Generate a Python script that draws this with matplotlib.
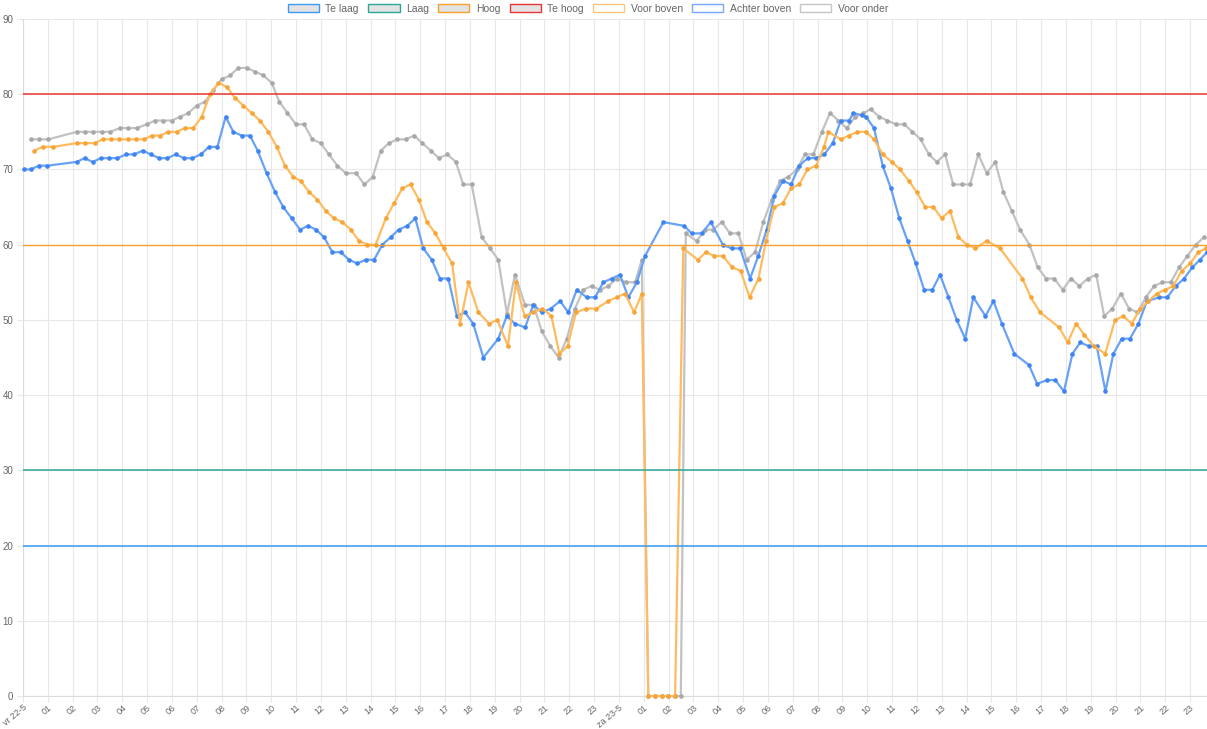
import matplotlib.pyplot as plt
from matplotlib.patches import Patch

plt.rcParams["font.family"] = ["Liberation Sans", "DejaVu Sans"]

# Tijd in uren vanaf vr 22-5 00:00
ACHTER_BOVEN_T = [
    0.04, 0.31, 0.64, 0.98, 2.16, 2.48, 2.81, 3.13, 3.48, 3.80,
    4.15, 4.48, 4.82, 5.14, 5.49, 5.81, 6.15, 6.48, 6.82, 7.16,
    7.49, 7.83, 8.16, 8.47, 8.81, 9.14, 9.45, 9.81, 10.15, 10.48,
    10.82, 11.16, 11.48, 11.80, 12.12, 12.46, 12.79, 13.13, 13.46, 13.80,
    14.14, 14.47, 14.81, 15.13, 15.47, 15.80, 16.12, 16.46, 16.79, 17.13,
    17.47, 17.80, 18.13, 18.54, 19.14, 19.48, 19.81, 20.22, 20.55, 20.89,
    21.25, 21.63, 21.96, 22.30, 22.70, 23.04, 23.37, 23.71, 24.04, 24.38,
    24.72, 25.05, 25.79, 26.62, 26.93, 27.33, 27.70, 28.18, 28.54, 28.88,
    29.28, 29.61, 29.95, 30.26, 30.60, 30.93, 31.26, 31.60, 31.94, 32.27,
    32.61, 32.93, 33.27, 33.44, 33.78, 33.95, 34.27, 34.62, 34.95, 35.29,
    35.62, 35.95, 36.29, 36.62, 36.93, 37.27, 37.60, 37.94, 38.27, 38.76,
    39.08, 39.42, 39.92, 40.51, 40.84, 41.24, 41.57, 41.92, 42.26, 42.58,
    42.92, 43.24, 43.59, 43.91, 44.25, 44.58, 44.92, 45.26, 45.76, 46.08,
    46.42, 46.76, 47.09, 47.40, 47.68,
]
ACHTER_BOVEN = [
    70, 70, 70.5, 70.5, 71, 71.5, 71, 71.5, 71.5, 71.5,
    72, 72, 72.5, 72, 71.5, 71.5, 72, 71.5, 71.5, 72,
    73, 73, 77, 75, 74.5, 74.5, 72.5, 69.5, 67, 65,
    63.5, 62, 62.5, 62, 61, 59, 59, 58, 57.5, 58,
    58, 60, 61, 62, 62.5, 63.5, 59.5, 58, 55.5, 55.5,
    50.5, 51, 49.5, 45, 47.5, 50.5, 49.5, 49, 52, 51,
    51.5, 52.5, 51, 54, 53, 53, 55, 55.5, 56, 53,
    55, 58.5, 63, 62.5, 61.5, 61.5, 63, 60, 59.5, 59.5,
    55.5, 58.5, 62, 66.5, 68.5, 68, 70.5, 71.5, 71.5, 72,
    73.5, 76.5, 76.5, 77.5, 77.2, 77, 75.5, 70.5, 67.5, 63.5,
    60.5, 57.5, 54, 54, 56, 53, 50, 47.5, 53, 50.5,
    52.5, 49.5, 45.5, 44, 41.5, 42, 42, 40.5, 45.5, 47,
    46.5, 46.5, 40.5, 45.5, 47.5, 47.5, 49.5, 52.5, 53, 53,
    54.5, 55.5, 57, 58, 59,
]

VOOR_BOVEN_T = [
    0.46, 0.79, 1.22, 2.16, 2.48, 2.90, 3.21, 3.54, 3.88, 4.22,
    4.55, 4.88, 5.18, 5.52, 5.85, 6.19, 6.52, 6.86, 7.20, 7.53,
    7.87, 8.20, 8.54, 8.87, 9.21, 9.54, 9.88, 10.22, 10.55, 10.89,
    11.18, 11.52, 11.85, 12.19, 12.52, 12.86, 13.20, 13.53, 13.87, 14.20,
    14.61, 14.94, 15.28, 15.61, 15.94, 16.27, 16.61, 16.94, 17.28, 17.60,
    17.94, 18.34, 18.77, 19.10, 19.53, 19.85, 20.20, 20.54, 20.92, 21.28,
    21.60, 21.93, 22.27, 22.67, 23.09, 23.57, 23.91, 24.24, 24.61, 24.92,
    25.18, 25.45, 25.72, 25.99, 26.26, 26.59, 27.17, 27.51, 27.84, 28.17,
    28.56, 28.90, 29.26, 29.62, 29.92, 30.25, 30.60, 30.93, 31.26, 31.59,
    31.94, 32.26, 32.43, 32.93, 33.27, 33.60, 33.94, 34.27, 34.62, 34.99,
    35.32, 35.67, 35.99, 36.33, 36.66, 36.99, 37.33, 37.67, 38.01, 38.35,
    38.81, 39.35, 40.25, 40.58, 40.96, 41.73, 42.07, 42.41, 42.74, 43.13,
    43.58, 43.98, 44.31, 44.65, 44.99, 45.32, 45.66, 45.99, 46.32, 46.66,
    47.00, 47.33, 47.64,
]
VOOR_BOVEN = [
    72.5, 73, 73, 73.5, 73.5, 73.5, 74, 74, 74, 74,
    74, 74, 74.5, 74.5, 75, 75, 75.5, 75.5, 77, 80,
    81.5, 81, 79.5, 78.5, 77.5, 76.5, 75, 73, 70.5, 69,
    68.5, 67, 66, 64.5, 63.5, 63, 62, 60.5, 60, 60,
    63.5, 65.5, 67.5, 68, 66, 63, 61.5, 59.5, 57.5, 49.5,
    55, 51, 49.5, 50, 46.5, 55, 50.5, 51, 51.5, 50.5,
    45.5, 46.5, 51, 51.5, 51.5, 52.5, 53, 53.5, 51, 53.5,
    0, 0, 0, 0, 0, 59.5, 58, 59, 58.5, 58.5,
    57, 56.5, 53, 55.5, 60.5, 65, 65.5, 67.5, 68, 70,
    70.5, 73, 75, 74, 74.5, 75, 75, 74, 72, 71,
    70, 68.5, 67, 65, 65, 63.5, 64.5, 61, 60, 59.5,
    60.5, 59.5, 55.5, 53, 51, 49, 47, 49.5, 48, 46.5,
    45.5, 50, 50.5, 49.5, 51.5, 52.5, 53.5, 54, 54.5, 56.5,
    57.5, 59, 59.5,
]

VOOR_ONDER_T = [
    0.31, 0.66, 1.02, 2.16, 2.50, 2.83, 3.17, 3.50, 3.91, 4.24,
    4.58, 4.98, 5.32, 5.65, 5.99, 6.32, 6.66, 7.00, 7.33, 7.66,
    8.00, 8.34, 8.67, 9.01, 9.34, 9.68, 10.02, 10.32, 10.65, 10.99,
    11.32, 11.65, 11.99, 12.32, 12.66, 13.00, 13.41, 13.75, 14.08, 14.41,
    14.74, 15.07, 15.41, 15.75, 16.08, 16.42, 16.75, 17.09, 17.43, 17.73,
    18.07, 18.47, 18.81, 19.14, 19.49, 19.81, 20.22, 20.56, 20.89, 21.24,
    21.57, 21.90, 22.23, 22.56, 22.90, 23.24, 23.57, 23.91, 24.28, 24.65,
    24.92, 25.18, 25.45, 25.72, 25.99, 26.26, 26.49, 26.69, 27.13, 27.47,
    27.80, 28.14, 28.47, 28.81, 29.14, 29.48, 29.81, 30.15, 30.49, 30.82,
    31.16, 31.49, 31.83, 32.17, 32.50, 32.83, 33.17, 33.51, 33.84, 34.14,
    34.48, 34.81, 35.15, 35.48, 35.82, 36.15, 36.48, 36.80, 37.13, 37.46,
    37.80, 38.14, 38.47, 38.81, 39.15, 39.48, 39.82, 40.15, 40.53, 40.86,
    41.20, 41.53, 41.87, 42.20, 42.54, 42.88, 43.22, 43.54, 43.87, 44.21,
    44.54, 44.88, 45.22, 45.55, 45.88, 46.22, 46.56, 46.89, 47.23, 47.56,
]
VOOR_ONDER = [
    74, 74, 74, 75, 75, 75, 75, 75, 75.5, 75.5,
    75.5, 76, 76.5, 76.5, 76.5, 77, 77.5, 78.5, 79, 80.5,
    82, 82.5, 83.5, 83.5, 83, 82.5, 81.5, 79, 77.5, 76,
    76, 74, 73.5, 72, 70.5, 69.5, 69.5, 68, 69, 72.5,
    73.5, 74, 74, 74.5, 73.5, 72.5, 71.5, 72, 71, 68,
    68, 61, 59.5, 58, 50.8, 56, 52, 52, 48.5, 46.5,
    45, 47.5, 51.5, 54, 54.5, 54, 54.5, 55.5, 55, 55,
    58, 0, 0, 0, 0, 0, 0, 61.5, 60.5, 62,
    62, 63, 61.5, 61.5, 58, 59, 63, 66, 68.5, 69,
    70, 72, 72, 75, 77.5, 76.5, 75.5, 77, 77.5, 78,
    77, 76.5, 76, 76, 75, 74, 72, 71, 72, 68,
    68, 68, 72, 69.5, 71, 67, 64.5, 62, 60, 57,
    55.5, 55.5, 54, 55.5, 54.5, 55.5, 56, 50.5, 51.5, 53.5,
    51.5, 51, 53, 54.5, 55, 55, 57, 58.5, 60, 61,
]

# Grenswaarden
GRENS_NAMEN = ["Te laag", "Laag", "Hoog", "Te hoog"]
GRENS_WAARDEN = [20, 30, 60, 80]
GRENS_KLEUREN = ["#3a9bf0", "#2aa898", "#f7a02c", "#ec3434"]
GRENS_DIKTE = [1.1, 1.1, 1.0, 1.1]

REEKS_NAMEN = ["Voor boven", "Achter boven", "Voor onder"]
REEKS_KLEUREN = ["#ffbc5e", "#68a2f6", "#c2c2c2"]
PUNT_KLEUREN = ["#f5a53a", "#3f84f0", "#a8a8a8"]
LEGENDA_RAND = ["#ffc57a", "#77a8f7", "#c6c6c6"]

DAG_LABELS = ["vr 22-5", "za 23-5"]
UUR_TICKS = list(range(0, 48))

tick_labels = []
for t in UUR_TICKS:
    if t % 24 == 0:
        tick_labels.append(DAG_LABELS[t // 24])
    else:
        tick_labels.append(f"{t % 24:02d}")

fig = plt.figure(figsize=(12.07, 7.29), dpi=100)
ax = fig.add_axes([23 / 1207, 33 / 729, 1184 / 1207, 677 / 729])

grid_kleur = "#e8e8e8"
tekst_kleur = "#666666"

series = [
    (VOOR_ONDER_T, VOOR_ONDER, 2),
    (ACHTER_BOVEN_T, ACHTER_BOVEN, 1),
    (VOOR_BOVEN_T, VOOR_BOVEN, 0),
]
for z, (tijden, waarden, i) in enumerate(series):
    ax.plot(
        tijden,
        waarden,
        color=REEKS_KLEUREN[i],
        lw=1.6,
        marker="o",
        markersize=2.3,
        markerfacecolor=PUNT_KLEUREN[i],
        markeredgecolor=PUNT_KLEUREN[i],
        zorder=3 + z,
        clip_on=False,
    )

for waarde, kleur, dikte in zip(GRENS_WAARDEN, GRENS_KLEUREN, GRENS_DIKTE):
    ax.axhline(waarde, color=kleur, lw=dikte, zorder=7)

ax.set_xlim(0, 47.68)
ax.set_ylim(0, 90)
ax.set_yticks(range(0, 91, 10))
ax.set_xticks(UUR_TICKS)
ax.set_xticklabels(
    tick_labels, rotation=40, ha="right", va="top", rotation_mode="anchor"
)
ax.grid(True, color=grid_kleur, lw=0.8, zorder=0)
ax.tick_params(
    axis="both", colors=grid_kleur, labelcolor=tekst_kleur, labelsize=7,
    length=4, width=0.8,
)
ax.tick_params(axis="y", pad=3)
ax.tick_params(axis="x", pad=1, labelsize=6.5)
for kant in ["top", "right"]:
    ax.spines[kant].set_visible(False)
for kant in ["left", "bottom"]:
    ax.spines[kant].set_color("#dcdcdc")
    ax.spines[kant].set_linewidth(0.8)

handles = []
for kleur in GRENS_KLEUREN:
    handles.append(Patch(facecolor="#e3e3e3", edgecolor=kleur, lw=1.0))
for kleur in LEGENDA_RAND:
    handles.append(Patch(facecolor="white", edgecolor=kleur, lw=1.0))
labels = GRENS_NAMEN + REEKS_NAMEN

fig.legend(
    handles,
    labels,
    loc="upper center",
    bbox_to_anchor=(588 / 1207, 1.008),
    ncol=7,
    frameon=False,
    fontsize=7.5,
    handlelength=3.0,
    handleheight=0.8,
    handletextpad=0.6,
    columnspacing=0.9,
    labelcolor=tekst_kleur,
)

fig.savefig("out.png", dpi=100)
